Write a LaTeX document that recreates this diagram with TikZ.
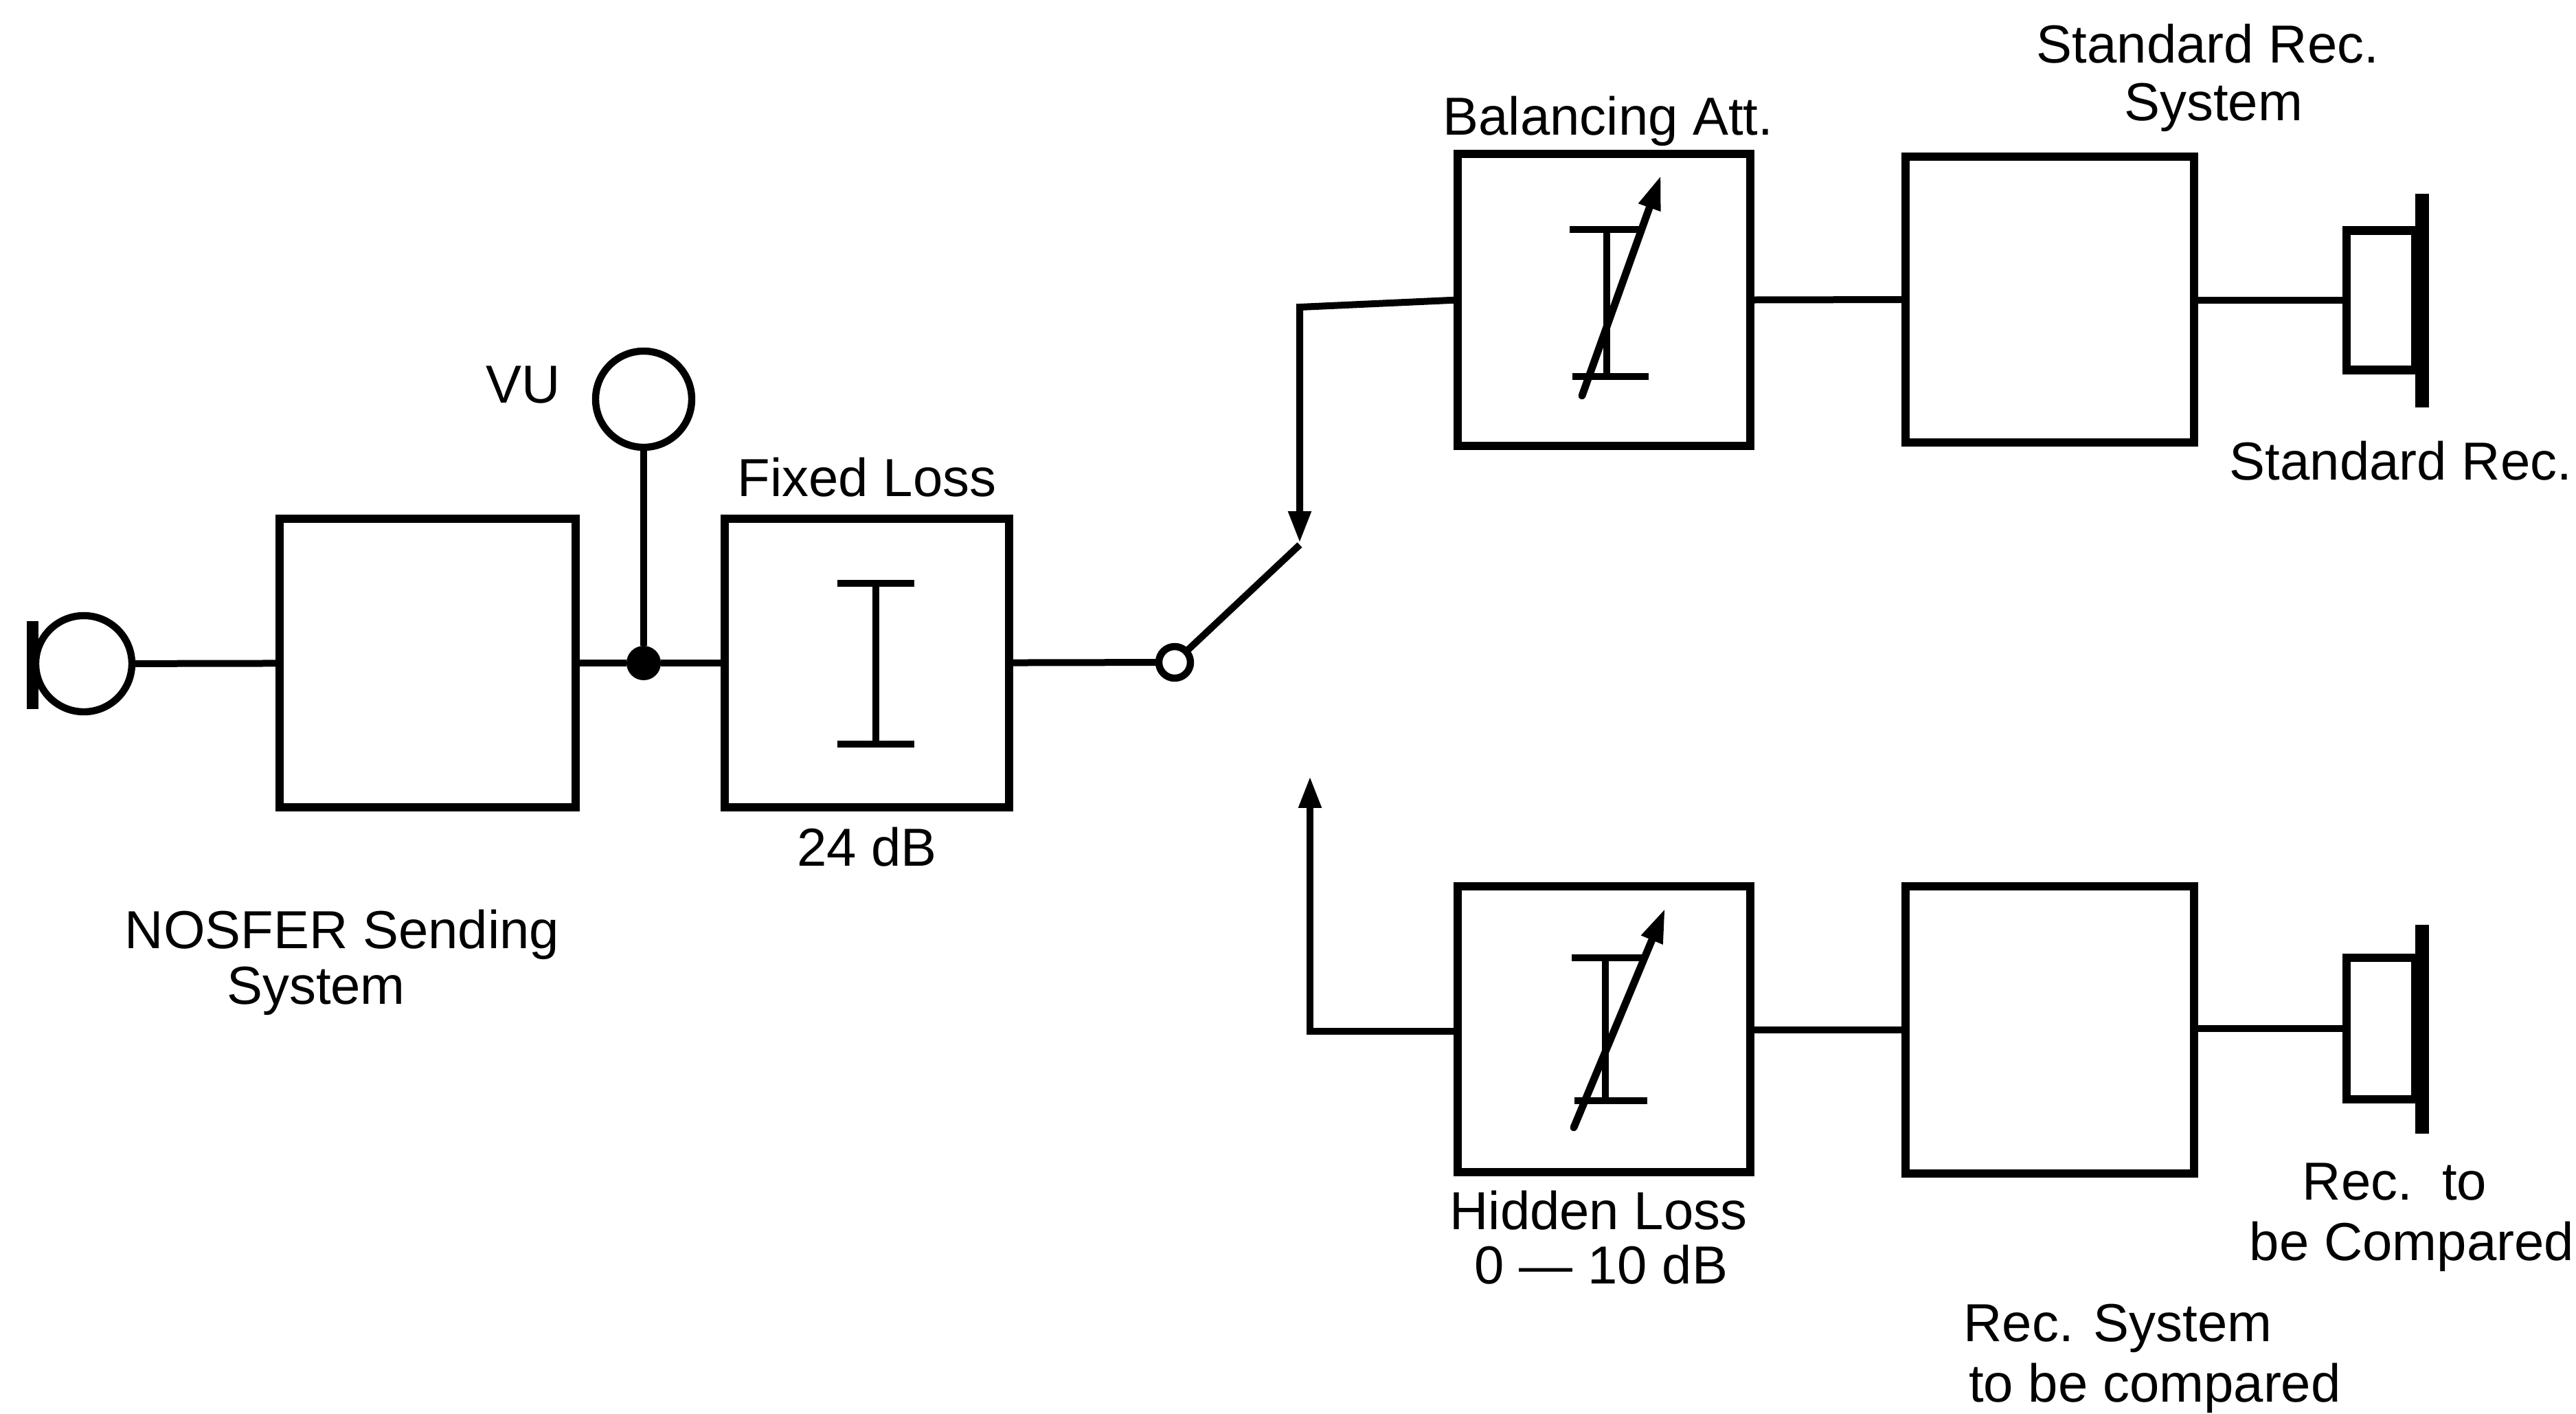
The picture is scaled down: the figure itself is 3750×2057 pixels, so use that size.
\documentclass[tikz,border=0pt]{standalone}
\usepackage{fontspec}
\setmainfont{Liberation Sans}
\usetikzlibrary{arrows.meta}
\tikzset{
  blk/.style 2 args={draw,line width=2.9pt,minimum width=#1*0.24pt,minimum height=#2*0.24pt,inner sep=0pt,outer sep=0pt},
  conn/.style={line width=2.4pt},
  sym/.style={line width=2.5pt},
  lab/.style={anchor=base,inner sep=0pt,font=\fontsize{18.7pt}{22pt}\selectfont},
  ring/.style={circle,draw,line width=2.5pt,minimum size=#1*0.24pt,inner sep=0pt,outer sep=0pt},
  dotn/.style={circle,fill=black,minimum size=#1*0.24pt,inner sep=0pt,outer sep=0pt},
  barn/.style 2 args={fill=black,minimum width=#1*0.24pt,minimum height=#2*0.24pt,inner sep=0pt,outer sep=0pt},
  flow/.style={conn,-{Triangle[length=11pt,width=7.5pt]}},
  varr/.style={line width=2.6pt,-{Triangle[length=12pt,width=7.5pt]},line cap=round}
}
\begin{document}
\begin{tikzpicture}[x=0.24pt,y=-0.24pt]
\useasboundingbox (0,0) rectangle (3750,2057);
% blocks
\node[blk={431}{420}] (send) at (622.5,965) {};
\node[blk={414}{420}] (fixed) at (1262,965) {};
\node[blk={426}{425}] (bal) at (2335,436.5) {};
\node[blk={420}{416}] (std) at (2984,436) {};
\node[blk={426}{416}] (hid) at (2335,1498) {};
\node[blk={420}{418}] (cmp) at (2984,1499) {};
% microphone
\node[barn={17}{128}] (micbar) at (47,968) {};
\node[ring=140] (mic) at (122,966) {};
% VU meter
\node[ring=140] (vu) at (937,581) {};
\node[dotn=50] (jn) at (937,965) {};
% switch
\node[ring=46] (sw) at (1710,964) {};
\coordinate (upT) at (1892,447);
\coordinate (upTip) at (1892,790);
\coordinate (loB) at (1907,1501);
\coordinate (loTip) at (1907,1130);
\coordinate (arm) at (1892,793);
% speakers
\node[barn={20}{311}] (barA) at (3526,437) {};
\node[blk={100}{203},anchor=east] (spkA) at (3516,437) {};
\node[barn={20}{304}] (barB) at (3526,1498) {};
\node[blk={100}{206},anchor=east] (spkB) at (3516,1497) {};
% connectors
\draw[conn] (mic) -- (send);
\draw[conn] (send) -- (jn);
\draw[conn] (jn) -- (fixed);
\draw[conn] (vu) -- (jn);
\draw[conn] (fixed) -- (sw);
\draw[conn] (sw) -- (arm);
\draw[flow] (bal.west) -- (upT) -- (upTip);
\draw[flow] (hid.west |- loB) -- (loB) -- (loTip);
\draw[conn] (bal.east) -- (std.west);
\draw[conn] (hid.east |- cmp.west) -- (cmp.west);
\draw[conn] (std.east |- spkA.west) -- (spkA.west);
\draw[conn] (cmp.east |- spkB.west) -- (spkB.west);
% fixed attenuator symbol
\coordinate (fT) at (1275,849);
\coordinate (fB) at (1275,1083);
\draw[sym] (fT) -- (fB);
\draw[sym] ([xshift=-13.5pt]fT) -- ([xshift=13.5pt]fT);
\draw[sym] ([xshift=-13.5pt]fB) -- ([xshift=13.5pt]fB);
% balancing attenuator symbol
\coordinate (aT) at (2339,334);
\coordinate (aB) at (2339,548);
\coordinate (aS) at (2303,576);
\coordinate (aE) at (2418,255);
\draw[sym] (aT) -- (aB);
\draw[sym] (2285,334) -- (2388,334);
\draw[sym] (2289,548) -- (2400,548);
\draw[varr] (aS) -- (aE);
% hidden loss symbol
\coordinate (bT) at (2337,1394);
\coordinate (bB) at (2337,1602);
\coordinate (bS) at (2291,1641);
\coordinate (bE) at (2424,1322);
\draw[sym] (bT) -- (bB);
\draw[sym] (2288,1394) -- (2392,1394);
\draw[sym] (2292,1602) -- (2398,1602);
\draw[varr] (bS) -- (bE);
% labels
\node[lab] (t1) at (2341,196) {Balancing Att.};
\node[lab] (t2) at (3214,91) {Standard Rec.};
\node[lab] (t3) at (3222,175) {System};
\node[lab] (t4) at (3495,698) {Standard Rec.};
\node[lab] (t5) at (1262,722) {Fixed Loss};
\node[lab] (t6) at (1262,1260) {24 dB};
\node[lab] (t7) at (498,1380) {NOSFER Sending};
\node[lab] (t8) at (460,1461) {System};
\node[lab] (t9) at (2327,1789) {Hidden Loss};
\node[lab] (t10) at (2331,1868) {0 — 10 dB};
\node[lab] (t11) at (3486,1746) {Rec.\ \ to};
\node[lab] (t12) at (3511,1834) {be Compared};
\node[lab] (t13) at (3083,1952) {Rec. System};
\node[lab] (t14) at (3137,2040) {to be compared};
\node[lab] (t15) at (762,586) {VU};
\end{tikzpicture}
\end{document}
